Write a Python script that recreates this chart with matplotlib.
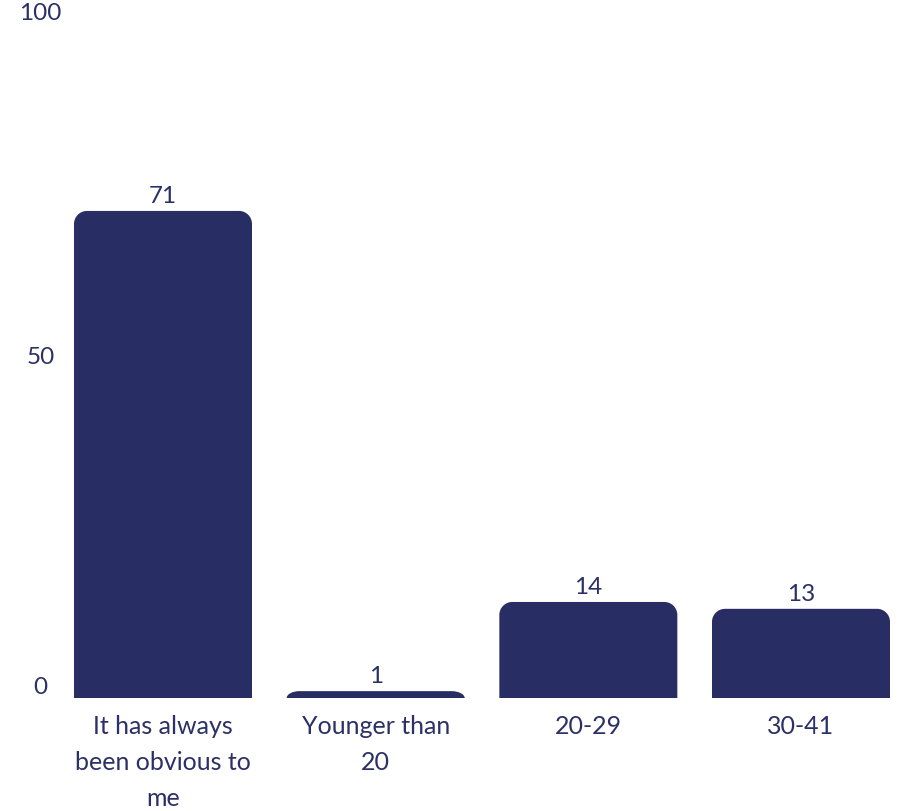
import matplotlib.pyplot as plt
from matplotlib.path import Path
from matplotlib.patches import PathPatch

# answers to "when did you know", share of respondents in %
categories = ["It has always\nbeen obvious to\nme", "Younger than\n20", "20-29", "30-41"]
values = [71, 1, 14, 13]
yticks = [0, 50, 100]

navy = "#282d64"
text_col = "#2b3066"
plt.rcParams["font.family"] = ["Lato", "DejaVu Sans"]

W, H = 897, 811
fig = plt.figure(figsize=(W / 100, H / 100), dpi=100)
ax = fig.add_axes([74 / W, (H - 698) / H, (890 - 74) / W, 686 / H])

bw = 0.837
bars = ax.bar(range(len(values)), values, width=bw, color=navy)
ax.set_xlim(-bw / 2, len(values) - 1 + bw / 2)
ax.set_ylim(0, 100)


def top_rounded(x0, w, h, rx, ry):
    # rectangle with only the two upper corners rounded (quarter ellipses)
    ry = min(ry, h)
    k = 0.5523
    x1 = x0 + w
    verts = [
        (x0, 0), (x0, h - ry),
        (x0, h - ry + k * ry), (x0 + rx - k * rx, h), (x0 + rx, h),
        (x1 - rx, h),
        (x1 - rx + k * rx, h), (x1, h - ry + k * ry), (x1, h - ry),
        (x1, 0), (x0, 0),
    ]
    codes = [Path.MOVETO, Path.LINETO,
             Path.CURVE4, Path.CURVE4, Path.CURVE4,
             Path.LINETO,
             Path.CURVE4, Path.CURVE4, Path.CURVE4,
             Path.LINETO, Path.CLOSEPOLY]
    return Path(verts, codes)


# corner radius of about 13 px, converted to data units on each axis
px_x = (890 - 74) / (len(values) - 1 + bw)
px_y = 686 / 100
r = 13
for rect in bars:
    p = top_rounded(rect.get_x(), rect.get_width(), rect.get_height(), r / px_x, r / px_y)
    ax.add_patch(PathPatch(p, facecolor=navy, edgecolor="none"))
    rect.set_visible(False)

for x, v in enumerate(values):
    ax.annotate(str(v), (x, v), xytext=(0, 3), textcoords="offset points",
                ha="center", va="bottom", fontsize=17.5, color=text_col)

ax.set_xticks(range(len(values)))
ax.set_xticklabels(categories, fontsize=18, color=text_col, linespacing=1.7, va="top")
ax.set_yticks(yticks)
ax.set_yticklabels([str(t) for t in yticks], fontsize=17.5, color=text_col, ha="center")
ax.get_yticklabels()[0].set_va("bottom")
ax.tick_params(axis="x", length=0, pad=12)
ax.tick_params(axis="y", length=0, pad=24)
for s in ax.spines.values():
    s.set_visible(False)

fig.savefig("out.png", dpi=100)
